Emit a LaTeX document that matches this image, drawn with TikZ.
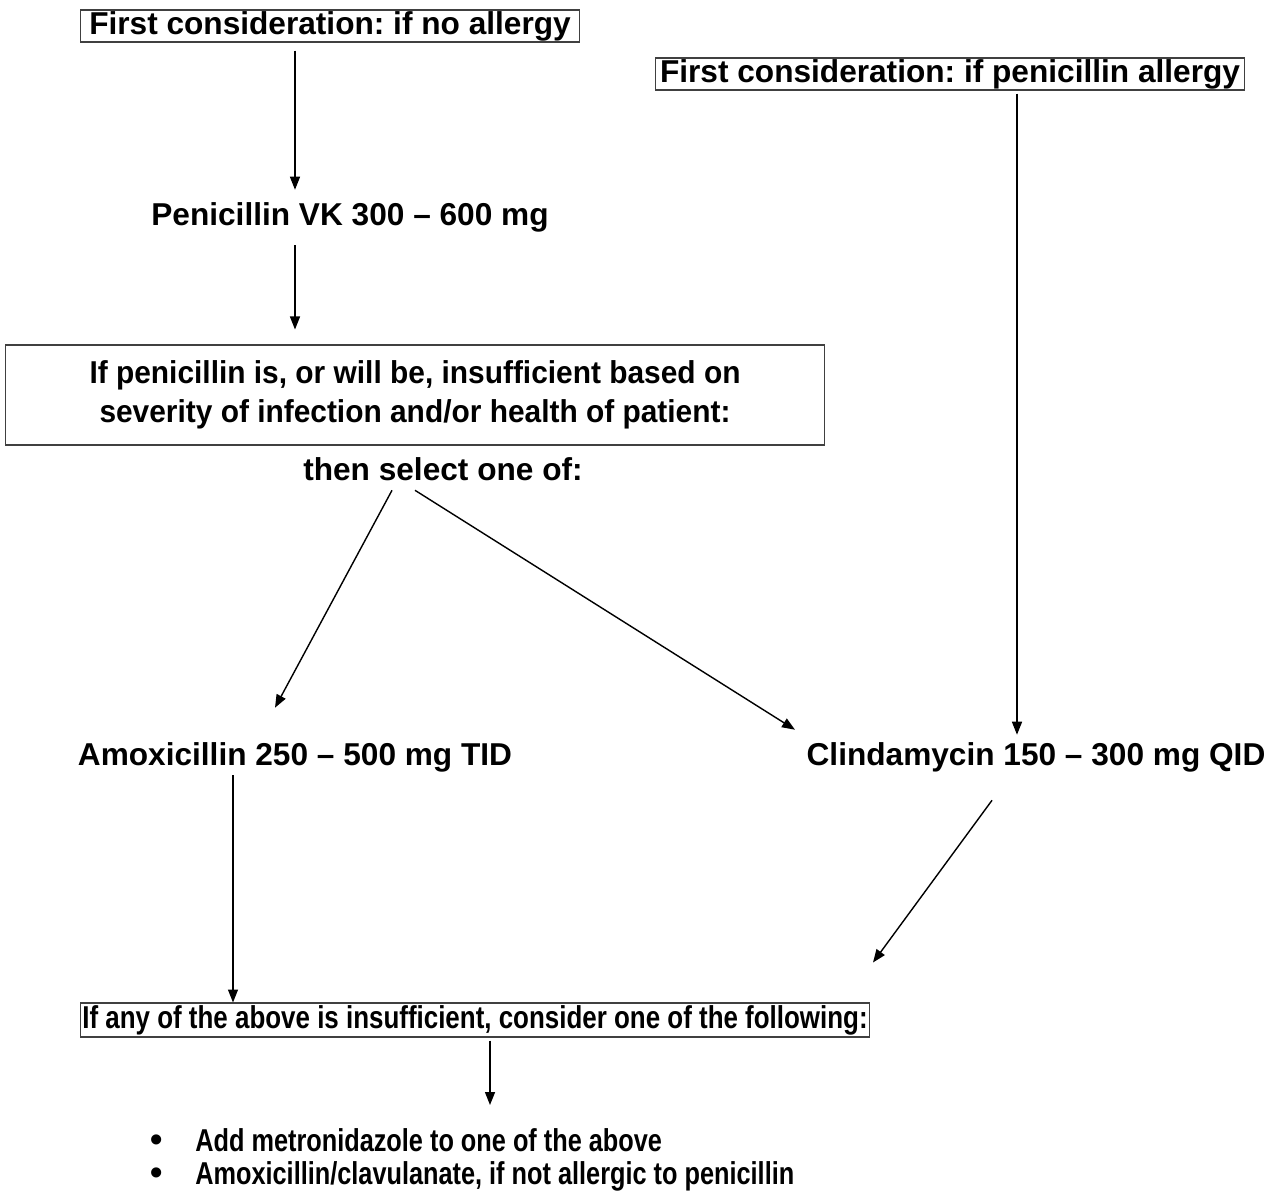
\documentclass[tikz,border=0pt]{standalone}
\usepackage{fontspec}
\setmainfont{Liberation Sans}
\newfontfamily\condfont[FakeStretch=0.82]{Liberation Sans}
\newfontfamily\listfont[FakeStretch=0.80]{Liberation Sans}
\newfontfamily\semicondfont[FakeStretch=0.945]{Liberation Sans}
\newcommand{\bul}{\makebox[0.9cm][l]{\rmfamily\fontsize{20}{19}\selectfont •}}
\usetikzlibrary{arrows.meta,calc}
\frenchspacing

\begin{document}
\begin{tikzpicture}
	[
	x=0.02cm, y=-0.02cm,
	font=\fontsize{18}{22}\selectfont\bfseries,
	box/.style={draw=black!75,line width=0.6pt,inner sep=0,align=center},
	label/.style={draw=none,fill=none,inner sep=0,text height=13pt,text depth=4pt},
	arrow/.style={
           -{Triangle[length=0.26cm,width=0.2cm]},
           line width=0.8pt,}
	]
		\useasboundingbox (0,0) rectangle (1277,1198);

		% boxes
		\node[box,minimum width=10cm,minimum height=0.64cm] (nofirst) at 	( 330,  26) {First consideration: if no allergy};
		\node[box,minimum width=11.8cm,minimum height=0.64cm] (allfirst) at 	( 950,  74) {First consideration: if penicillin allergy};
		\node[box,minimum width=16.4cm,minimum height=2cm,font=\semicondfont\fontsize{18}{22}\selectfont\bfseries] (insuff) at 		( 415, 395) {If penicillin is, or will be, insufficient based on\\severity of infection and/or health of patient:};
		\node[box,minimum width=15.8cm,minimum height=0.68cm,font=\condfont\fontsize{18}{22}\selectfont\bfseries] (rule) at 	( 475,1020) {If any of the above is insufficient, consider one of the following:};

		% labels
		\node[label] (peni) at 		( 350, 218) {Penicillin VK 300 -- 600 mg};
		\node[label] (then) at 		( 443, 473) {then select one of:};
		\node[label] (amox) at 		( 295, 758) {Amoxicillin 250 -- 500 mg TID};
		\node[label] (clin) at 		(1036, 758) {Clindamycin 150 -- 300 mg QID};
		\node[inner sep=0,anchor=north west,align=left,font=\listfont\fontsize{18}{19}\selectfont\bfseries] (list) at (150,1128)
			{\bul Add metronidazole to one of the above\\
			 \bul Amoxicillin/clavulanate, if not allergic to penicillin};

		% straight paths
		\draw[arrow] ($(nofirst.south)+(-35,8)$) -- ($(peni.north)+(-55,-13)$);
		\draw[arrow] ($(peni.south)+(-55,12)$) -- ($(insuff.north)+(-120,-15)$);
		\draw[arrow] ($(then.south)+(-51,2)$) -- ($(amox.north)+(-20,-35)$);
		\draw[arrow] ($(then.south)+(-28,2)$) -- ($(clin.north)+(-241,-13)$);
		\draw[arrow] ($(allfirst.south)+(67,3)$) -- ($(clin.north)+(-19,-8)$);
		\draw[arrow] ($(amox.south)+(-62,2)$) -- ($(rule.north)+(-242,0)$);
		\draw[arrow] ($(clin.south)+(-44,27)$) -- ($(rule.north)+(398,-40)$);
		\draw[arrow] ($(rule.south)+(15,3)$) -- ($(list.north west)+(340,-23)$);

	\end{tikzpicture}
\end{document}
